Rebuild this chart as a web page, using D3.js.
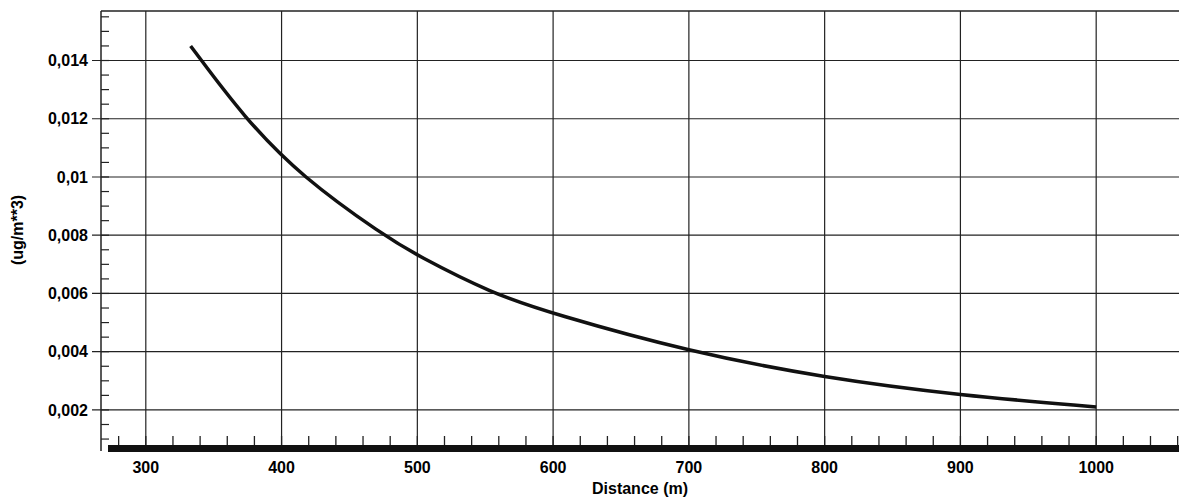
<!DOCTYPE html>
<html><head><meta charset="utf-8">
<script src="https://cdn.jsdelivr.net/npm/d3@7"></script>
<style>body{margin:0;background:#fff}text{font-family:"Liberation Sans",Arial,sans-serif;font-weight:bold}</style>
</head><body><div id="chart"></div>
<script>
// curve
var distance = [333, 373, 415, 475, 500, 555, 600, 700, 800, 900, 1000];
var concentration = [0.0145, 0.0120, 0.0100, 0.0080, 0.0073, 0.0060, 0.0053, 0.0040, 0.0031, 0.0025, 0.0021];
var xTicks = [300, 400, 500, 600, 700, 800, 900, 1000];
var yTicks = [0.002, 0.004, 0.006, 0.008, 0.01, 0.012, 0.014];

var W = 1179, H = 498;
var svg = d3.select("#chart").append("svg").attr("width", W).attr("height", H);

var x = d3.scaleLinear().domain([267, 1061]).range([101, 1179]);
var y = d3.scaleLinear().domain([0.00059, 0.0157]).range([451, 11]);

// grid
svg.append("g").selectAll("line").data(xTicks).enter().append("line")
    .attr("x1", function(d) { return x(d); }).attr("x2", function(d) { return x(d); })
    .attr("y1", y.range()[1]).attr("y2", y.range()[0])
    .attr("stroke", "#222").attr("stroke-width", 1.2);
svg.append("g").selectAll("line").data(yTicks).enter().append("line")
    .attr("x1", 92).attr("x2", W)
    .attr("y1", function(d) { return y(d); }).attr("y2", function(d) { return y(d); })
    .attr("stroke", "#222").attr("stroke-width", 1.2);

// frame: top + left
svg.append("line").attr("x1", 101).attr("x2", W).attr("y1", 11).attr("y2", 11).attr("stroke", "#222").attr("stroke-width", 1.5);
svg.append("line").attr("x1", 101).attr("x2", 101).attr("y1", 11).attr("y2", 451).attr("stroke", "#222").attr("stroke-width", 1.5);

// minor ticks
var yMinor = d3.range(0.001, 0.0156, 0.0005);
svg.append("g").selectAll("line").data(yMinor).enter().append("line")
    .attr("x1", 101).attr("x2", 109)
    .attr("y1", function(d) { return y(d); }).attr("y2", function(d) { return y(d); })
    .attr("stroke", "#222").attr("stroke-width", 1.2);
var xMinor = d3.range(280, 1061, 20);
svg.append("g").selectAll("line").data(xMinor).enter().append("line")
    .attr("x1", function(d) { return x(d); }).attr("x2", function(d) { return x(d); })
    .attr("y1", 436).attr("y2", 446)
    .attr("stroke", "#222").attr("stroke-width", 1.3);

// thick bottom band
svg.append("rect").attr("x", 108).attr("y", 445).attr("width", W - 108).attr("height", 7).attr("fill", "#111");

// labels
svg.append("g").selectAll("text").data(yTicks).enter().append("text")
    .attr("x", 88).attr("y", function(d) { return y(d); }).attr("dy", "0.35em")
    .attr("text-anchor", "end").style("font-size", "16px")
    .text(function(d) { return String(+d.toFixed(3)).replace(".", ","); });
svg.append("g").selectAll("text").data(xTicks).enter().append("text")
    .attr("x", function(d) { return x(d); }).attr("y", 473)
    .attr("text-anchor", "middle").style("font-size", "16px")
    .text(function(d) { return d; });
svg.append("text").attr("x", 640).attr("y", 494).attr("text-anchor", "middle")
    .style("font-size", "16px").text("Distance (m)");
svg.append("text").attr("transform", "translate(23,230) rotate(-90)").attr("text-anchor", "middle")
    .style("font-size", "16px").text("(ug/m**3)");

// curve
var pts = distance.map(function(d, i) { return [d, concentration[i]]; });
svg.append("path").datum(pts)
    .attr("fill", "none").attr("stroke", "#111").attr("stroke-width", 3.5)
    .attr("d", d3.line().x(function(d) { return x(d[0]); }).y(function(d) { return y(d[1]); }).curve(d3.curveBasis));
</script></body></html>
